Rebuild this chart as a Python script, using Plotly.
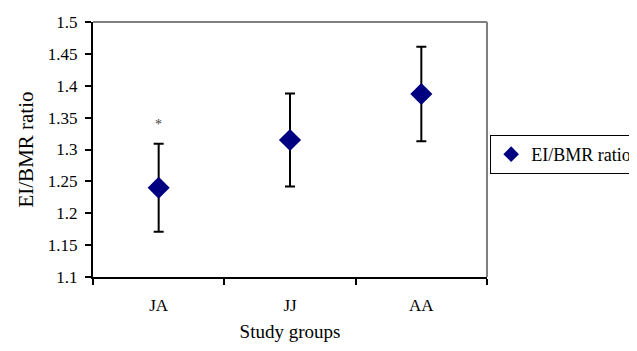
import plotly.graph_objects as go

groups = ["JA", "JJ", "AA"]
ratio = [1.24, 1.315, 1.387]
err = [0.069, 0.073, 0.074]
star_y = [1.34]
y_ticks = [1.1, 1.15, 1.2, 1.25, 1.3, 1.35, 1.4, 1.45, 1.5]

FONT = "Liberation Serif, Times New Roman, serif"

fig = go.Figure()
fig.add_trace(go.Scatter(
    x=groups, y=ratio, mode="markers", name="EI/BMR ratio",
    marker=dict(symbol="diamond", size=17, color="#000080"),
    error_y=dict(type="data", array=err, visible=True, color="black",
                 thickness=2, width=5),
))
fig.add_annotation(x=groups[0], y=star_y[0], text="*", showarrow=False,
                   font=dict(family=FONT, size=14, color="#444444"))

# gray top/right frame
fig.add_shape(type="line", xref="paper", yref="paper", x0=0, x1=1, y0=1, y1=1,
              line=dict(color="#808080", width=2))
fig.add_shape(type="line", xref="paper", yref="paper", x0=1, x1=1, y0=0, y1=1,
              line=dict(color="#808080", width=2))

fig.update_layout(
    width=637, height=351,
    margin=dict(l=85, r=158, t=14, b=82, autoexpand=False),
    paper_bgcolor="white", plot_bgcolor="white",
    font=dict(family=FONT, size=16, color="black"),
    showlegend=True,
    legend=dict(x=1.008, y=0.557, xanchor="left", yanchor="top",
                bordercolor="black", borderwidth=1, itemsizing="constant",
                font=dict(family=FONT, size=18), itemwidth=30,
                tracegroupgap=0),
    xaxis=dict(
        type="category", range=[-0.5, 2.5], tickson="boundaries",
        ticks="outside", ticklen=6, tickwidth=1.5, tickcolor="black",
        showline=True, linecolor="black", linewidth=2, showgrid=False,
        ticklabelstandoff=12, automargin=False,
        tickfont=dict(family=FONT, size=17),
        title=dict(text="Study groups", font=dict(family=FONT, size=19), standoff=10),
    ),
    yaxis=dict(
        range=[1.1, 1.5], tickvals=y_ticks,
        ticktext=[("%g" % v) for v in y_ticks],
        ticks="outside", ticklen=6, tickwidth=1.5, tickcolor="black",
        showline=True, linecolor="black", linewidth=2, showgrid=False,
        zeroline=False, ticklabelstandoff=4, automargin=False,
        tickfont=dict(family=FONT, size=17),
        title=dict(text="EI/BMR ratio", font=dict(family=FONT, size=21), standoff=8),
    ),
)

fig.write_html("out.html")
